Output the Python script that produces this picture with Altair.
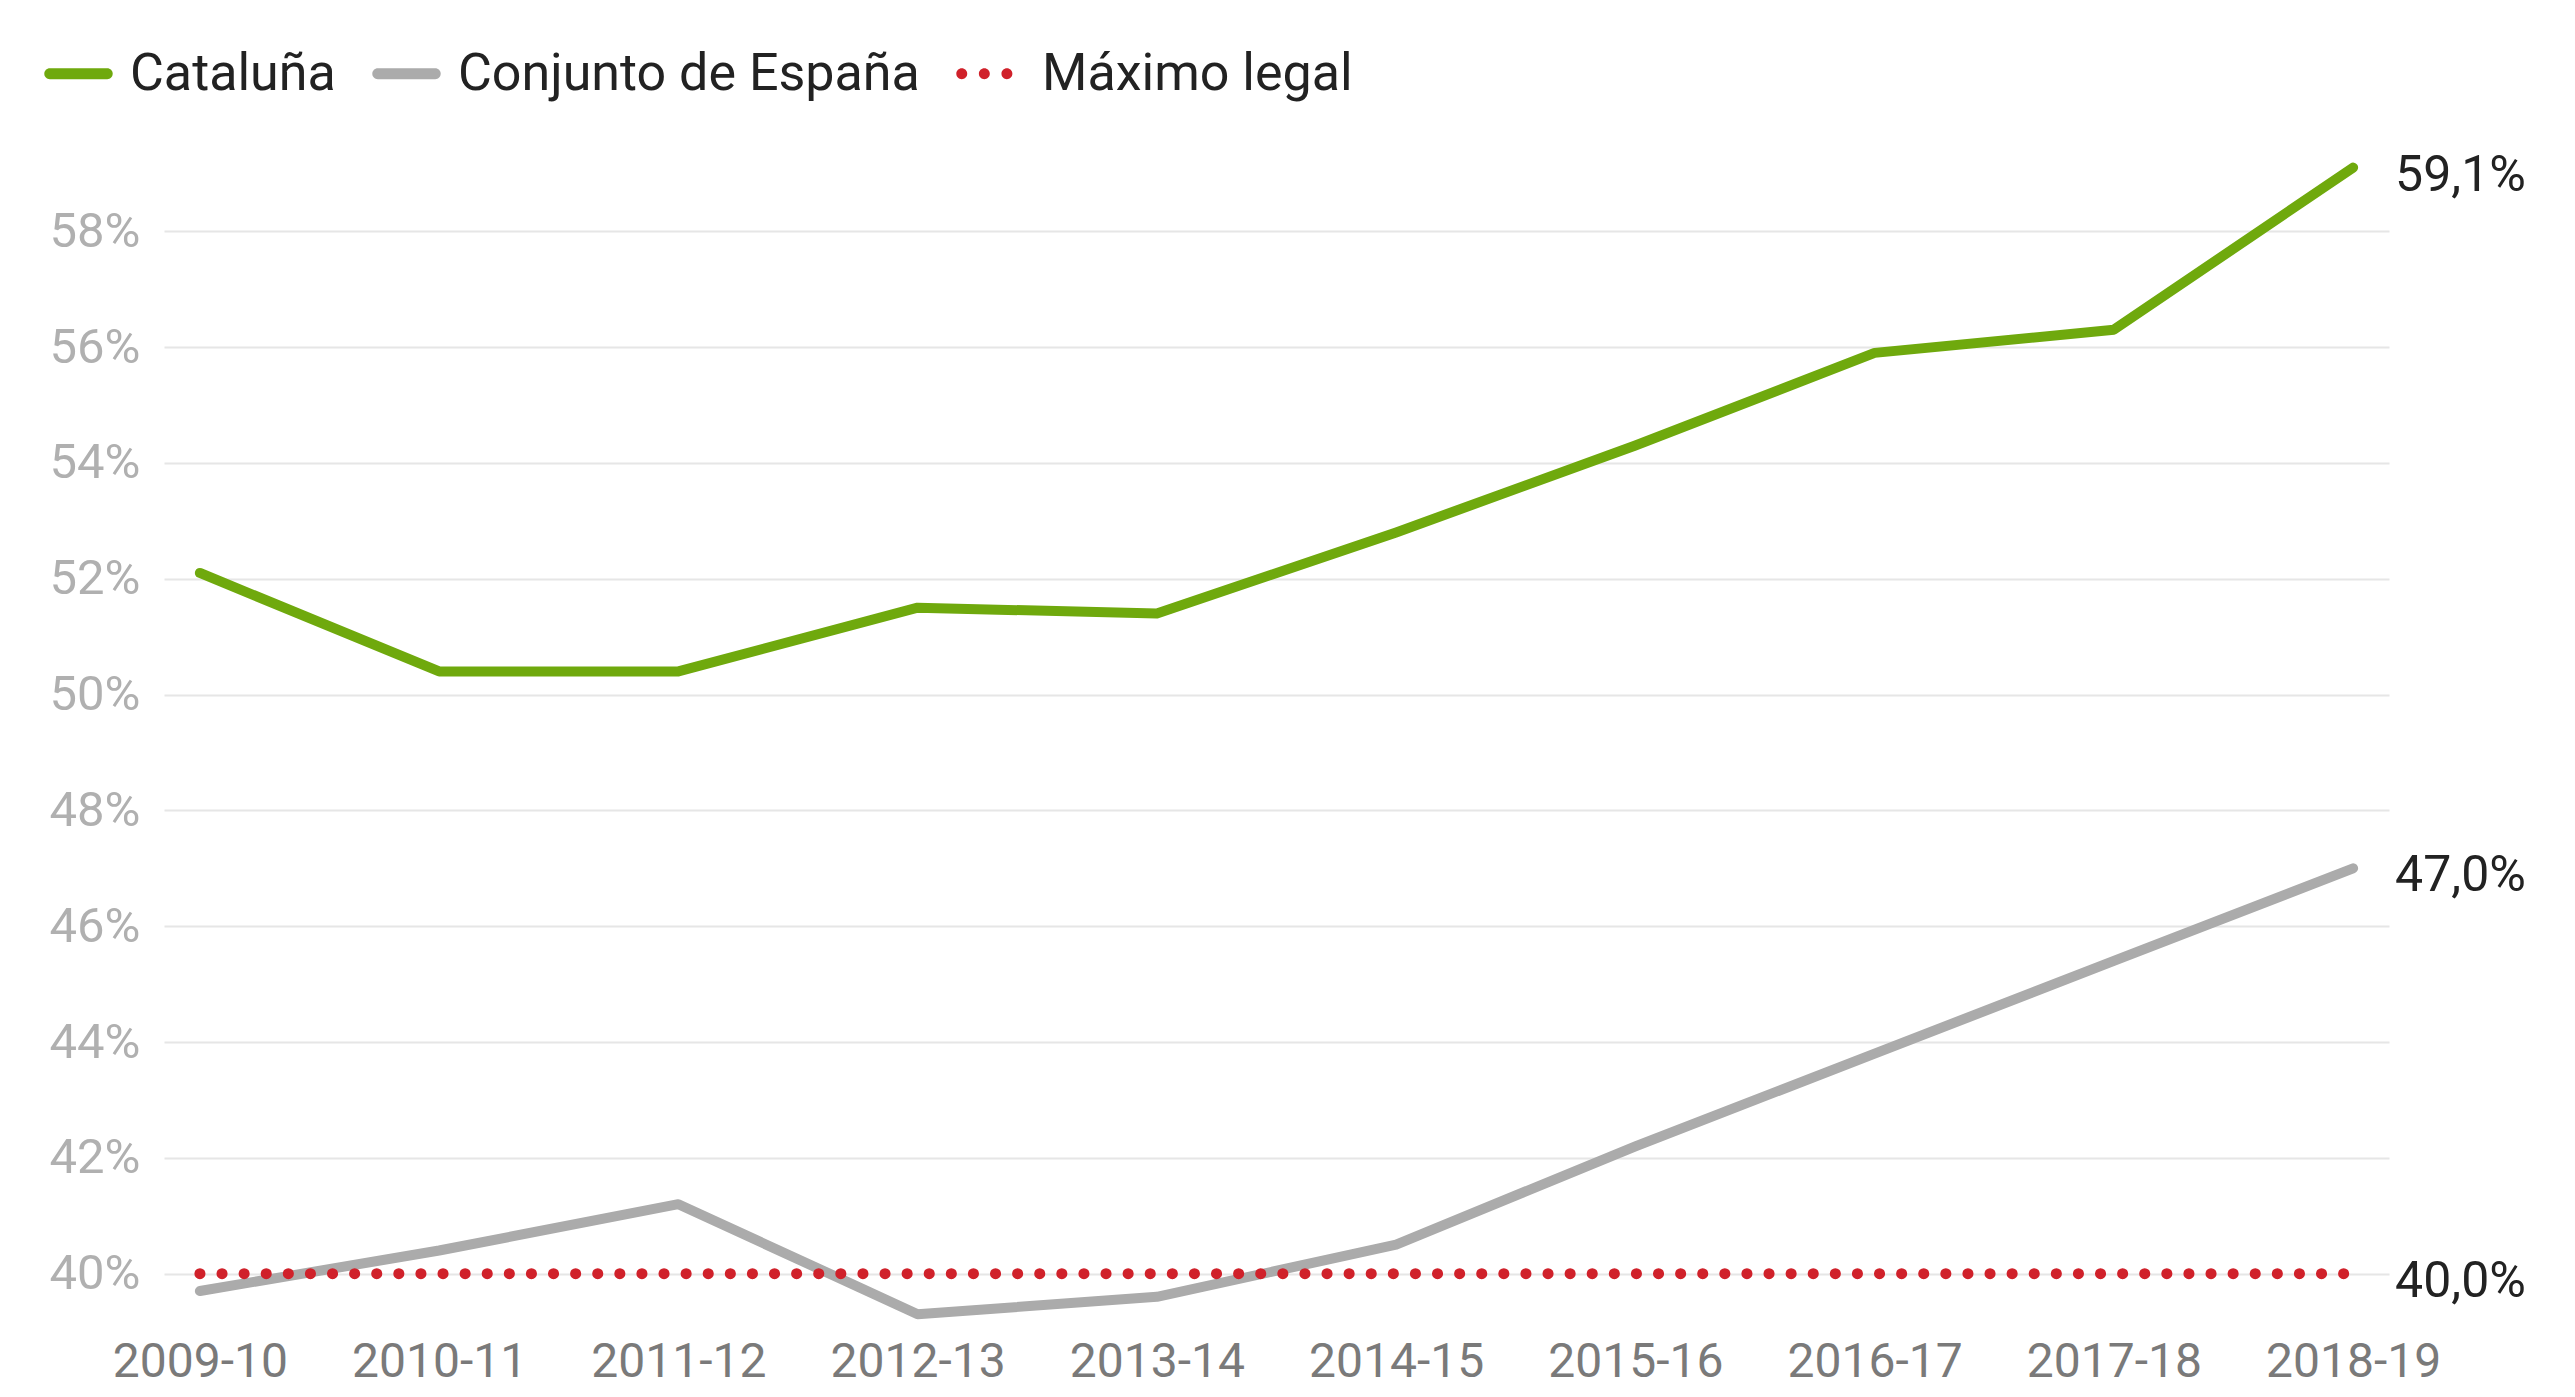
import altair as alt
import pandas as pd

periods = ["2009-10", "2010-11", "2011-12", "2012-13", "2013-14",
           "2014-15", "2015-16", "2016-17", "2017-18", "2018-19"]
cataluna = [52.1, 50.4, 50.4, 51.5, 51.4, 52.8, 54.3, 55.9, 56.3, 59.1]
espana = [39.7, 40.4, 41.2, 39.3, 39.6, 40.5, 42.2, 43.8, 45.4, 47.0]
maximo = [40.0, 40.0, 40.0, 40.0, 40.0, 40.0, 40.0, 40.0, 40.0, 40.0]

series_names = ["Cataluña", "Conjunto de España", "Máximo legal"]
series_colors = ["#6fa90d", "#ababab", "#d0212a"]
y_ticks = [40, 42, 44, 46, 48, 50, 52, 54, 56, 58]

rows = []
for name, vals in zip(series_names, [cataluna, espana, maximo]):
    for p, v in zip(periods, vals):
        rows.append({"serie": name, "periodo": p, "valor": v,
                     "etiqueta": f"{v:.1f}".replace(".", ",") + "%"})
df = pd.DataFrame(rows)

FONT = "Roboto"

# legend glyphs (unit-square SVG paths): rounded bar and three dots
r = 0.16
bar_path = (f"M-0.84,-{r}H0.84A{r},{r} 0 0 1 0.84,{r}H-0.84A{r},{r} 0 0 1 -0.84,-{r}Z")


def circle(cx):
    return f"M{cx - r},0A{r},{r} 0 1 0 {cx + r},0A{r},{r} 0 1 0 {cx - r},0Z"


dots_path = circle(-0.84) + circle(-0.18) + circle(0.48)

x_enc = alt.X("periodo:N", sort=periods,
              scale=alt.Scale(type="point", padding=0.15),
              axis=alt.Axis(title=None, labelAngle=0, labelFontSize=48,
                            labelColor="#7a7a7a", labelPadding=18,
                            domain=False, ticks=False, grid=False, labelFont=FONT))
y_enc = alt.Y("valor:Q",
              scale=alt.Scale(domain=[39.2, 59.3], nice=False, zero=False),
              axis=alt.Axis(title=None, values=y_ticks, labelExpr="datum.value + '%'",
                            labelFontSize=49, labelColor="#b0b0b0", labelPadding=24,
                            domain=False, ticks=False, grid=True, gridColor="#e6e6e6",
                            gridWidth=2, labelFont=FONT))

legend_kw = dict(title=None, orient="none", direction="horizontal",
                 legendX=-120, legendY=-117,
                 labelFontSize=52, labelColor="#222222", labelFont=FONT, labelLimit=0,
                 symbolSize=4680, symbolStrokeWidth=0, labelOffset=17, columnPadding=36)

color_scale = alt.Scale(domain=series_names, range=series_colors)

base = alt.Chart(df).encode(x=x_enc, y=y_enc)


def line_layer(idx, width, dash=None):
    kw = dict(strokeWidth=width, strokeCap="round", strokeJoin="round",
              color=series_colors[idx])
    if dash is not None:
        kw["strokeDash"] = dash
    return base.transform_filter(alt.datum.serie == series_names[idx]).mark_line(**kw)


legend_layer = base.transform_filter("false").mark_point(filled=True, opacity=1).encode(
    color=alt.Color("serie:N", scale=color_scale, legend=alt.Legend(**legend_kw)),
    shape=alt.Shape("serie:N",
                    scale=alt.Scale(domain=series_names,
                                    range=[bar_path, bar_path, dots_path]),
                    legend=alt.Legend(**legend_kw)),
)

lines = alt.layer(
    line_layer(1, 10),
    line_layer(0, 10),
    line_layer(2, 11, [0.1, 22]),
)

labels = base.transform_filter(alt.datum.periodo == periods[-1]).mark_text(
    align="left", baseline="middle", dx=42, dy=8, fontSize=50, font=FONT, color="#222222"
).encode(text="etiqueta:N")

chart = alt.layer(lines, labels, legend_layer).properties(
    width=2225, height=1164,
    padding={"left": 156, "top": 148, "right": 170, "bottom": 75},
    autosize=alt.AutoSizeParams(type="none"),
).configure(font=FONT).configure_view(strokeWidth=0, stroke=None)

chart.save("out.html", embed_options={"renderer": "svg", "actions": False})
